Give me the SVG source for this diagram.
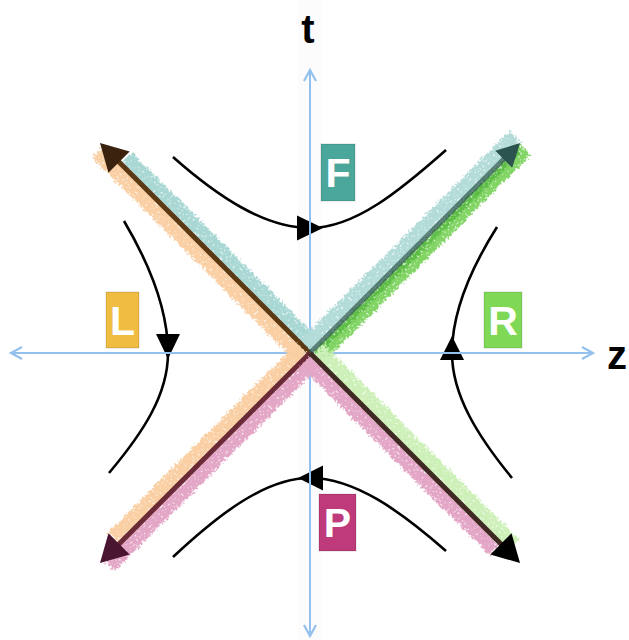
<svg xmlns="http://www.w3.org/2000/svg" width="629" height="640" viewBox="0 0 629 640">
<style>
.axis{stroke:#94c0ee;stroke-width:2;fill:none}
.hyp{stroke:#000;stroke-width:2.6;fill:none}
.harrow{fill:#000}
.band{stroke-width:15;fill:none}
.core{stroke-width:5;fill:none}
.lbl{font-family:"Liberation Sans",Arial,sans-serif;font-weight:bold;font-size:41px;fill:#fff;text-anchor:middle}
.ax{font-family:"Liberation Sans",Arial,sans-serif;font-weight:bold;font-size:40px;fill:#000}
.box{stroke:rgba(0,0,0,0.15);stroke-width:1}
</style>
<defs>
<marker id="chev" markerUnits="userSpaceOnUse" markerWidth="16" markerHeight="16" refX="12" refY="7" orient="auto-start-reverse" viewBox="0 0 16 16">
<path d="M1,1 L12,7 L1,13" fill="none" stroke="#94c0ee" stroke-width="2.2"/>
</marker>
<filter id="crayon" filterUnits="userSpaceOnUse" x="-20" y="-35" width="345" height="70" color-interpolation-filters="sRGB">
<feTurbulence type="fractalNoise" baseFrequency="0.45" numOctaves="2" seed="2" result="n1"/>
<feDisplacementMap in="SourceGraphic" in2="n1" scale="8" xChannelSelector="R" yChannelSelector="G" result="rough"/>
<feTurbulence type="fractalNoise" baseFrequency="0.5" numOctaves="2" seed="5" result="n2"/>
<feColorMatrix in="n2" type="matrix" values="0 0 0 0 0 0 0 0 0 0 0 0 0 0 0 8 0 0 0 -1.9" result="m"/>
<feComposite in="rough" in2="m" operator="in"/>
</filter>
</defs>
<rect x="0" y="0" width="629" height="640" fill="#fff"/>
<rect x="298" y="0" width="24" height="640" fill="#fcfcfc"/>

<g id="connectors">
<g id="hyperbolas">
<path class="hyp" d="M173,157 C218.2,197 265,228 310,228 C355,228 400.8,190 446,150"/>
<path class="hyp" d="M173,557 C218,515 265,478 310,478 C355,478 401,511.6 446,551"/>
<path class="hyp" d="M124,221 C150,265 168,311 168,353 C168,395 142.6,433 109,473"/>
<path class="hyp" d="M497,227 C470.5,269 452,311 452,353 C452,395 477.6,436 512,478"/>
<polygon class="harrow" points="323,228 297,215.5 297,240.5"/>
<polygon class="harrow" points="298,478 323,465.5 323,490.5"/>
<polygon class="harrow" points="168,359 156,334 180,334"/>
<polygon class="harrow" points="452,336 440,360 464,360"/>
</g>
<g id="axes">
<line class="axis" x1="310" y1="636" x2="310" y2="70" marker-start="url(#chev)" marker-end="url(#chev)"/>
<line class="axis" x1="11" y1="353" x2="593" y2="353" marker-start="url(#chev)" marker-end="url(#chev)"/>
</g>
<g id="diagonals">
<g transform="translate(310,353) rotate(-135)">
<g filter="url(#crayon)">
<line class="band" x1="3" y1="8.5" x2="268" y2="8.5" stroke="#a9d8d4"/>
<line class="band" x1="3" y1="-8.5" x2="292" y2="-8.5" stroke="#f9cfa3"/>
</g>
<line class="core" x1="0" y1="0" x2="275" y2="0" stroke="#5b3915"/>
<polygon points="297,0 270,-15 270,15" fill="#3a220e"/>
</g>
<g transform="translate(310,353) rotate(-45)">
<g filter="url(#crayon)">
<line class="band" x1="3" y1="-8.5" x2="298" y2="-8.5" stroke="#b3dcd9"/>
<line class="band" x1="3" y1="8.5" x2="296" y2="8.5" stroke="#82d565"/>
<line x1="3" y1="5" x2="290" y2="5" stroke="#5cbc46" stroke-width="5"/>
</g>
<line class="core" x1="0" y1="0" x2="282" y2="0" stroke="#2e5a50" stroke-opacity="0.75" stroke-width="4"/>
<polygon points="297,0 274,-12 274,12" fill="#2b5450"/>
</g>
<g transform="translate(310,353) rotate(135)">
<g filter="url(#crayon)">
<line class="band" x1="3" y1="8.5" x2="270" y2="8.5" stroke="#f9cfa3"/>
<line class="band" x1="3" y1="-8.5" x2="292" y2="-8.5" stroke="#e3a6c6"/>
</g>
<line class="core" x1="0" y1="0" x2="275" y2="0" stroke="#6a2a36"/>
<polygon points="297,0 270,-15 270,15" fill="#4a1530"/>
</g>
<g transform="translate(310,353) rotate(45)">
<g filter="url(#crayon)">
<line class="band" x1="3" y1="-8.5" x2="280" y2="-8.5" stroke="#cdf0b8"/>
<line class="band" x1="3" y1="8.5" x2="270" y2="8.5" stroke="#e3a6c6"/>
</g>
<line class="core" x1="0" y1="0" x2="275" y2="0" stroke="#3e2a22"/>
<polygon points="297,0 270,-15 270,15" fill="#000"/>
</g>
</g>
</g>

<g id="node-F"><rect class="box" x="321" y="144" width="34" height="57" fill="#4ba69b"/><text class="lbl" x="338" y="187">F</text></g>
<g id="node-L"><rect class="box" x="106" y="292" width="33" height="56" fill="#f0bd42"/><text class="lbl" x="122.5" y="335">L</text></g>
<g id="node-R"><rect class="box" x="484" y="292" width="38" height="56" fill="#7fd957"/><text class="lbl" x="503" y="335">R</text></g>
<g id="node-P"><rect class="box" x="319" y="494" width="37" height="57" fill="#be3a7a"/><text class="lbl" x="337.5" y="537">P</text></g>
<g id="label-t"><text class="ax" x="308" y="43" text-anchor="middle">t</text></g>
<g id="label-z"><text class="ax" x="607" y="369">z</text></g>
</svg>
